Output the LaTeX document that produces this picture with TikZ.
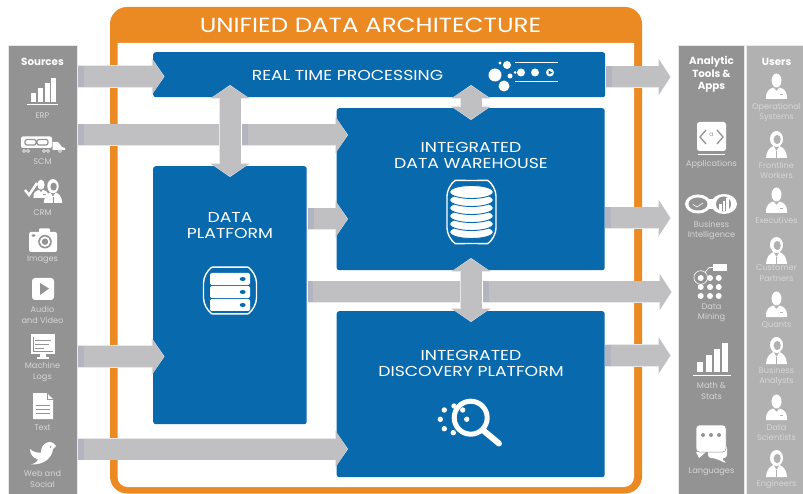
\documentclass[tikz,border=0pt]{standalone}
\usepackage{xcolor}
\usepackage{fontspec}
\setmainfont{Poppins}
\newfontfamily\widefont[FakeStretch=1.2]{Poppins}
\usetikzlibrary{arrows.meta}
\definecolor{frameorange}{RGB}{235, 137, 35}
\definecolor{boxblue}{RGB}{8, 106, 173}
\definecolor{paneldark}{RGB}{147, 147, 147}
\definecolor{panellight}{RGB}{177, 177, 177}
\definecolor{flowgray}{RGB}{192, 192, 195}
\definecolor{flowedge}{RGB}{232, 232, 235}
\definecolor{flowband}{RGB}{178, 181, 192}
\definecolor{labelgray}{RGB}{214, 214, 214}
\tikzset{
    panel/.style={draw=flowedge, line width=0.6pt, minimum width=#1, inner sep=0pt},
    bluebox/.style={fill=boxblue, rounded corners=2.5pt, inner sep=0pt},
    boxlabel/.style={text=white, align=center, yshift=-0.8pt, font=\widefont\fontsize{14.4}{16}\selectfont},
    panelhead/.style={text=white, align=center, yshift=-0.8pt, font=\bfseries\fontsize{10.3}{12.5}\selectfont},
    iconlabel/.style={text=labelgray, align=center, yshift=-0.8pt, font=\fontsize{8.2}{10.5}\selectfont},
    flow/.style={draw=flowgray, line width=21pt, shorten >=0.8pt,
        -{Triangle[length=11pt,width=34pt]},
        preaction={draw=flowedge, line width=22.4pt, shorten >=0pt,
            -{Triangle[length=13pt,width=37pt]}}},
    flowbar/.style={draw=flowgray, line width=21pt,
        preaction={draw=flowedge, line width=22.4pt}},
    flowboth/.style={draw=flowgray, line width=21pt, shorten >=0.8pt, shorten <=0.8pt,
        {Triangle[length=12pt,width=37pt]}-{Triangle[length=12pt,width=37pt]},
        preaction={draw=flowedge, line width=22.4pt, shorten >=0pt, shorten <=0pt,
            {Triangle[length=14pt,width=40pt]}-{Triangle[length=14pt,width=40pt]}}},
    pics/manicon/.style={code={
        \fill[white] (0,6.5) ellipse (5 and 7);
        \fill[white] (-10.5,25) .. controls (-11,17) and (-7,14.5) .. (-3,13.5) -- (0,17) -- (3,13.5) .. controls (7,14.5) and (11,17) .. (10.5,25) -- cycle;
        \draw[#1, line width=0.6pt] (3,20) -- (6.5,20);
    }},
    pics/womanicon/.style={code={
        \fill[white] (0,7) ellipse (6.5 and 8);
        \fill[#1] (0.7,7.5) ellipse (3.6 and 4.6);
        \fill[white] (-10.5,26) .. controls (-10,20) and (-8,16) .. (-3,14) -- (0,19) -- (3,14) .. controls (8,16) and (10,20) .. (10.5,26) -- cycle;
        \draw[#1, line width=0.6pt] (0,19) -- (0,26);
    }}
}
\newcommand{\flowarrow}[2]{\draw[flow] (#1) -- (#2); \draw[flowband, line width=21pt] (#1) -- ++(5.5,0);}

\begin{document}
\begin{tikzpicture}[x=1pt, y=-1pt]
    \useasboundingbox (0,0) rectangle (803,494);

    \node[panel=69, fill=paneldark, minimum height=449, anchor=north west] (sources) at (8,45) {};
    \node[panel=66, fill=paneldark, minimum height=449, anchor=north west] (tools) at (678,45) {};
    \node[panel=57, fill=panellight, minimum height=449, anchor=north west] (users) at (746,45) {};

    \fill[frameorange, rounded corners=17] (110,7) rectangle (642,493.5);
    \fill[white] (117.5,43) -- (634,43) [rounded corners=10] -- (634,487) -- (117.5,487) [sharp corners] -- cycle;
    \node[text=white, font=\widefont\fontsize{20.5}{24}\selectfont] (title) at (370.5,25.5) {UNIFIED DATA ARCHITECTURE};

    \node[bluebox, minimum width=452, minimum height=45, anchor=north west] (realtime) at (153,52) {};
    \node[bluebox, minimum width=268, minimum height=162, anchor=north west] (warehouse) at (336.5,108) {};
    \node[bluebox, minimum width=153.5, minimum height=258, anchor=north west] (platform) at (153,166) {};
    \node[bluebox, minimum width=268, minimum height=166, anchor=north west] (discovery) at (336.5,311) {};

    \foreach \name/\x/\y in {srca/78/76.5, srcb/78/135, srcc/78/356.5, srcd/78/449,
        rtin/164.5/76.5, dwin/348/135, dpin/164.5/356.5, dsin/348/449,
        dwmid/348/219, dpout/308/219, crossa/230/135, crossb/242/135,
        longa/308/292, longb/471/292, longc/483/292, longout/672/292,
        rtout/606/77, rtend/671/77, dwout/605/218, dwend/671/218, dsout/605/355.5, dsend/671/355.5,
        vata/230/85, vatb/230/177, vbta/471/85, vbtb/471/120, vcta/471/258, vctb/471/322}
        \coordinate (\name) at (\x,\y);

    \flowarrow{srca}{rtin}
    \draw[flowbar] (srcb) -- (crossa);
    \draw[flowband, line width=21pt] (srcb) -- ++(5.5,0);
    \flowarrow{crossb}{dwin}
    \flowarrow{srcc}{dpin}
    \flowarrow{srcd}{dsin}
    \flowarrow{dpout}{dwmid}
    \draw[flowbar] (longa) -- (longb);
    \draw[flowband, line width=21pt] (longa) -- ++(4.5,0);
    \flowarrow{longc}{longout}
    \flowarrow{rtout}{rtend}
    \flowarrow{dwout}{dwend}
    \flowarrow{dsout}{dsend}
    \draw[flowboth] (vata) -- (vatb);
    \draw[flowboth] (vbta) -- (vbtb);
    \draw[flowboth] (vcta) -- (vctb);

    \node[boxlabel] (rtlabel) at (347.5,75) {REAL TIME PROCESSING};
    \node[boxlabel] (dwlabel) at (471,155) {INTEGRATED\\DATA WAREHOUSE};
    \node[boxlabel] (dplabel) at (230,225) {DATA\\PLATFORM};
    \node[boxlabel] (dslabel) at (471,363) {INTEGRATED\\DISCOVERY PLATFORM};

    \node[panelhead] (srchead) at (42.5,61) {Sources};
    \node[panelhead] (toolhead) at (711.5,73.5) {Analytic\\Tools \&\\Apps};
    \node[panelhead] (userhead) at (776.5,61) {Users};

    \foreach \name/\x/\y/\txt in {erp/42.5/115/{ERP}, scm/42.5/161/{SCM}, crm/42.5/212/{CRM}, images/42.5/259/{Images},
        audio/42.5/314/{Audio\\and Video}, logs/42.5/371/{Machine\\Logs}, text/42.5/427/{Text}, web/42.5/478/{Web and\\Social},
        apps/711.5/164/{Applications}, bi/711.5/229.5/{Business\\Intelligence}, mining/711.5/312/{Data\\Mining},
        math/711.5/390/{Math \&\\Stats}, lang/711.5/471/{Languages},
        opsys/776.5/111.5/{Operational\\Systems}, front/776.5/169.5/{Frontline\\Workers}, exec/776.5/220/{Executives},
        cust/776.5/272.5/{Customer\\Partners}, quants/776.5/324/{Quants}, analysts/776.5/375.5/{Business\\Analysts},
        sci/776.5/432/{Data\\Scientists}, engs/776.5/484/{Engineers}}
        \node[iconlabel] (\name label) at (\x,\y) {\txt};

    % real time icon
    \foreach \x/\y/\r in {495/75/6.5, 507/65/4, 504/86/5.5, 500/63/1.6, 510/76/2.5, 515/72.5/1.5, 521/72.5/4, 535/72.5/4, 550/72.5/4}
        \fill[white] (\x,\y) circle (\r);
    \fill[boxblue] (548.5,70.5) -- (552.5,72.5) -- (548.5,74.5) -- cycle;
    \draw[white, line width=0.6pt] (515,62.5) -- (558,62.5) (515,81) -- (558,81);

    % warehouse icon
    \draw[white, line width=1.4pt, rounded corners=10] (447,186) .. controls (455,180.5) and (488,180.5) .. (496,186) -- (496,238) .. controls (488,243.5) and (455,243.5) .. (447,238) -- cycle;
    \foreach \y in {232,224,216,208,200,192}
        \filldraw[fill=white, draw=boxblue, line width=0.9pt] (471.5,\y) ellipse (22 and 6.5);

    % platform icon
    \draw[white, line width=1.4pt, rounded corners=10] (203.5,273) .. controls (212,267) and (248,267) .. (256.5,273) -- (256.5,308) .. controls (248,314) and (212,314) .. (203.5,308) -- cycle;
    \foreach \y in {273,286,299}{
        \fill[white, rounded corners=2] (210,\y) rectangle (250,\y+12);
        \fill[boxblue] (242.7,\y+6) ellipse (3 and 2);
    }

    % discovery icon
    \draw[white, line width=5pt] (470.7,417.7) circle (16.5);
    \draw[white, line width=6pt, line cap=round] (484,431) -- (499,443.5);
    \foreach \x/\y in {444.3/410, 440.3/419.3, 444.3/428.7, 453.3/432.7, 454/406, 462.7/410, 466.7/419.3}
        \fill[white] (\x,\y) circle (2.7);

    % source icons
    \foreach \x/\y in {31/93, 38/88, 44.5/83, 51/78}
        \fill[white] (\x,\y) rectangle (\x+5,102);
    \draw[white, line width=0.7pt] (27,104) -- (58,104);

    \fill[white, rounded corners=2] (21,136.5) rectangle (52,148);
    \fill[white] (52.5,142) -- (58,142) -- (62,147) -- (65,148) -- (65,150) -- (52.5,150) -- cycle;
    \draw[paneldark, line width=1.2pt, rounded corners=2] (25,139.5) rectangle (36,145) (37,139.5) rectangle (48,145);
    \foreach \x in {24,28,44,48,60}
        \draw[white, line width=0.7pt, fill=paneldark] (\x,151) circle (1.5);

    \draw[white, line width=2.4pt] (25,190) -- (29,195) -- (37,183);
    \pic[scale=0.72] at (41,180) {manicon=paneldark};
    \pic[scale=0.88] at (53,180) {womanicon=paneldark};

    \fill[white, rounded corners=2] (29,232) rectangle (57,252);
    \fill[white, rounded corners=1] (39,228.5) rectangle (50,234);
    \fill[paneldark] (45,241.7) circle (6.8);
    \fill[white] (45,241.7) circle (5.2);
    \fill[paneldark] (45,241.7) circle (3.2);
    \fill[paneldark] (33.5,235.5) ellipse (2 and 1.2);

    \fill[white, rounded corners=3] (32,278) rectangle (54,300);
    \fill[paneldark] (40,283) -- (49,288.5) -- (40,295) -- cycle;

    \fill[white] (31,334) rectangle (55,354);
    \fill[white] (40,354) rectangle (46,357);
    \fill[white] (37,357) rectangle (49,359);
    \draw[paneldark, line width=1pt] (33,337) -- (33,351.5) -- (53,351.5) (35,340) -- (51,340) (35,344) -- (49,344) (35,348) -- (44,348);

    \fill[white] (33,393) -- (47,393) -- (53,399) -- (53,419) -- (33,419) -- cycle;
    \draw[paneldark, line width=0.8pt] (47,393) -- (47,399) -- (53,399);
    \foreach \y in {405,409,413}
        \draw[paneldark, line width=1pt] (36,\y) -- (50,\y);

    \fill[white] (47,442.5) .. controls (51,441) and (54,443) .. (56,446) -- (53,449) .. controls (52,458) and (44,465) .. (31,464.5) .. controls (36,463) and (38,461) .. (38,459.5) .. controls (33,458) and (30,454) .. (30,449) .. controls (33,452) and (37,453) .. (41,452.5) .. controls (41,448) and (43,444) .. (47,442.5) -- cycle;
    \fill[paneldark] (50.5,447) circle (0.9);

    % tool icons
    \fill[white, rounded corners=2.5] (697,122) rectangle (726,151);
    \draw[white, line width=1.2pt] (698,154.5) -- (725,154.5);
    \draw[paneldark, line width=1.3pt] (706,130) -- (700,137) -- (706,144) (717,130) -- (723,137) -- (717,144);
    \node[text=paneldark, font=\fontsize{6}{6}\selectfont, inner sep=0pt] (appa) at (711.5,135) {a};

    \fill[white] (698,204) ellipse (13 and 9.5);
    \fill[white] (724,204) ellipse (13 and 10);
    \fill[white] (705,199) rectangle (717,209);
    \fill[paneldark] (698,204) ellipse (9.5 and 6.5);
    \fill[paneldark] (723.5,204) circle (7.5);
    \draw[white, line width=0.6pt] (693,204.5) -- (697,207) -- (703,203);
    \foreach \x/\y in {719/204, 722.5/201, 726/198}
        \fill[white] (\x,\y) rectangle (\x+2.5,211);

    \foreach \x in {700.7,710,718.7}
        \foreach \y in {278,287,296}
            \fill[white] (\x,\y) circle (3);
    \draw[white, line width=0.6pt] (700.7,277.5) circle (6.8) (705,272.5) -- (709,267.5) -- (713,267.5);
    \fill[white] (713,264) rectangle (727,271);

    \foreach \x/\y in {697/362, 706/355, 714/349, 722/343}
        \fill[white] (\x,\y) rectangle (\x+6,372);
    \draw[white, line width=0.7pt] (693,375) -- (731,375);

    \fill[white, rounded corners=3] (708,445) -- (727,445) -- (727,458) -- (721,458) -- (727,463.5) -- (714,458) -- (708,458) -- cycle;
    \fill[white] (696,452) -- (699,458) -- (706,452) -- cycle;
    \filldraw[fill=white, draw=paneldark, line width=0.5pt, rounded corners=3.5] (696,425) rectangle (726,452);
    \foreach \x in {703,711,719}
        \fill[paneldark] (\x,435) circle (2);

    % user icons
    \foreach \y in {74,188,292,395}
        \pic at (776.5,\y) {manicon=panellight};
    \foreach \y in {132,238,338,451}
        \pic at (776.5,\y) {womanicon=panellight};
\end{tikzpicture}
\end{document}
